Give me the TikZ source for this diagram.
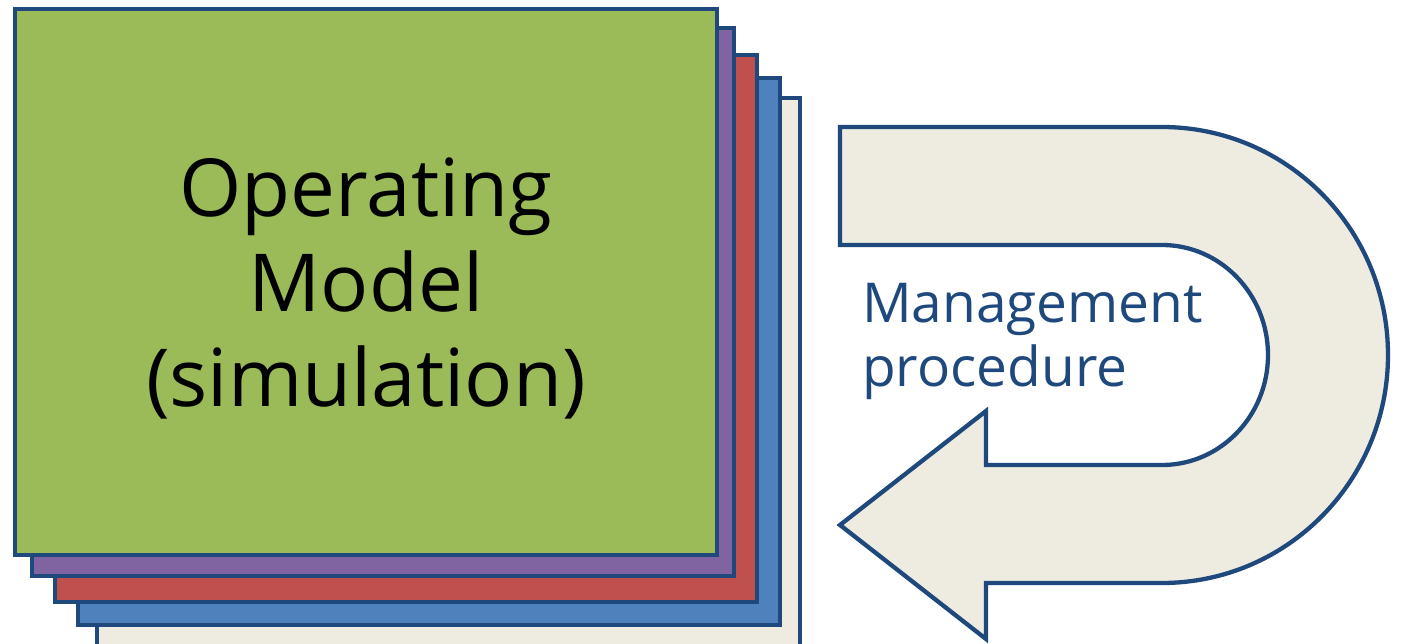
\documentclass[tikz,border=0pt]{standalone}
\usepackage{fontspec}
\setmainfont{Open Sans}
\definecolor{navy}{HTML}{1F497D}
\definecolor{olgreen}{HTML}{9BBB59}
\definecolor{olpurple}{HTML}{8064A2}
\definecolor{olred}{HTML}{C0504D}
\definecolor{olblue}{HTML}{4F81BD}
\definecolor{olcream}{HTML}{EEECE1}
\tikzset{
  sheet/.style={draw=navy, line width=4.3pt},
  uarrow/.style={draw=navy, fill=olcream, line width=4.3pt, line join=miter},
}
\begin{document}
\begin{tikzpicture}[x=1pt,y=-1pt]
\useasboundingbox (0,0) rectangle (1401,644);
% stacked sheets, back to front
\path[sheet, fill=olcream] (97,98) rectangle (800,646);
\path[sheet, fill=olblue] (78,78) rectangle (780,625);
\path[sheet, fill=olred] (55,55) rectangle (757,602);
\path[sheet, fill=olpurple] (32,28) rectangle (734,576);
\path[sheet, fill=olgreen] (15,9) rectangle (717,555);
\node[font=\fontsize{80}{95}\selectfont, align=center, inner sep=0pt, anchor=center] (om) at (366,288) {Operating\\Model\\(simulation)};
% U-turn arrow
\path[uarrow] (840,525) coordinate (tip) -- (986,411) -- (986,465) -- (1162,465)
  arc[start angle=90, end angle=-90, x radius=106, y radius=110]
  -- (840,245) -- (840,127) -- (1162,127)
  arc[start angle=-90, end angle=90, x radius=226, y radius=228]
  -- (986,583) -- (986,639) -- cycle;
\node[font=\fontsize{55}{64}\selectfont, text=navy, align=left, inner sep=0pt, anchor=north west] (mp) at (862,283) {Management\\procedure};
\end{tikzpicture}
\end{document}
